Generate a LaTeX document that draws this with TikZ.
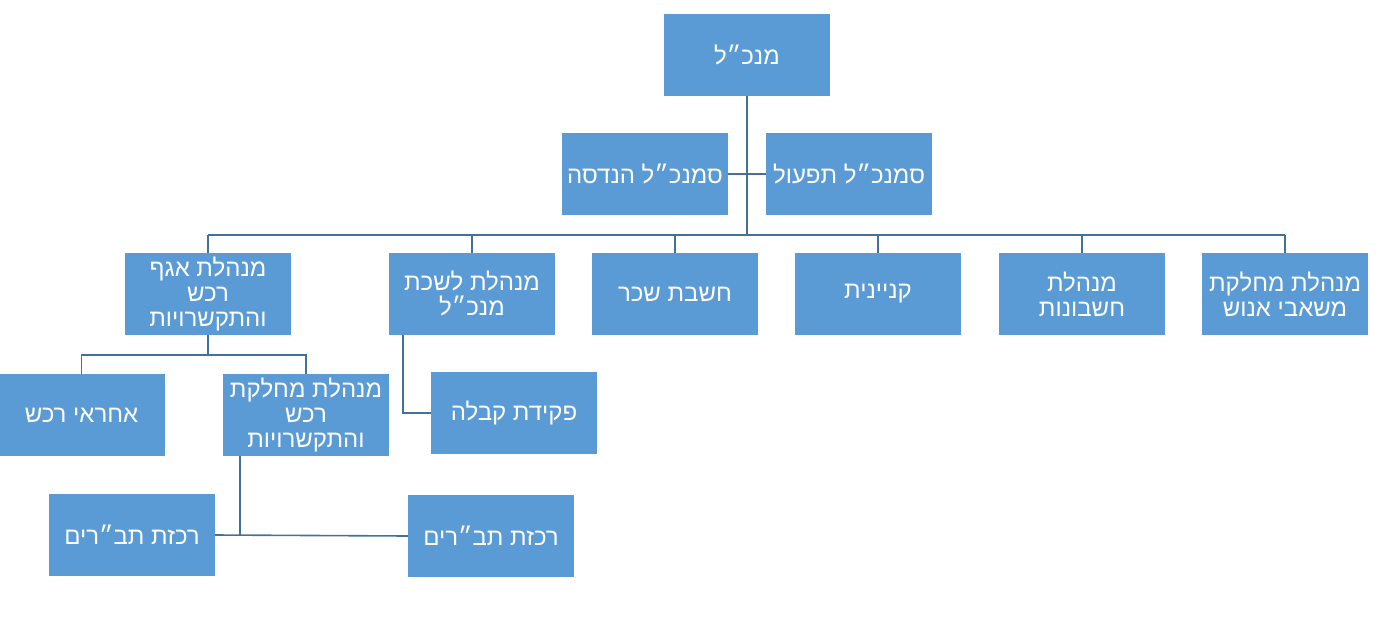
\documentclass[tikz,border=0pt]{standalone}
\usepackage{fontspec}
\setmainfont{Liberation Sans}
\newfontfamily\hebfont[Script=Hebrew]{Liberation Sans}
\TeXXeTstate=1
\definecolor{boxblue}{HTML}{5B9BD5}
\definecolor{lineblue}{HTML}{41719C}
\newcommand{\heb}[1]{\beginR#1\endR}

\tikzset{unite/.style = {fill = boxblue, text = white,
                         minimum width = 166pt, minimum height = 82pt,
                         inner sep = 0pt, align = center,
                         font = \hebfont\fontsize{24}{25}\selectfont},
         lien/.style  = {draw = lineblue, line width = 1.6pt}
        }

\begin{document}
\begin{tikzpicture}[x=1pt, y=-1pt]
  \useasboundingbox (0,0) rectangle (1381,624);
  % boxes
  \node[unite] (root)      at (747,55)   {\heb{מנכ״ל}};
  \node[unite] (handasa)   at (645,174)  {\heb{סמנכ״ל הנדסה}};
  \node[unite] (tiful)     at (849,174)  {\heb{סמנכ״ל תפעול}};
  \node[unite] (agaf)      at (208,294)  {\heb{מנהלת אגף}\\\heb{רכש}\\\heb{והתקשרויות}};
  \node[unite] (lishka)    at (472,294)  {\heb{מנהלת לשכת}\\\heb{מנכ״ל}};
  \node[unite] (sachar)    at (675,294)  {\heb{חשבת שכר}};
  \node[unite] (kniyanit)  at (878,294)  {\heb{קניינית}};
  \node[unite] (heshbonot) at (1082,294) {\heb{מנהלת}\\\heb{חשבונות}};
  \node[unite] (enosh)     at (1285,294) {\heb{מנהלת מחלקת}\\\heb{משאבי אנוש}};
  \node[unite] (achrai)    at (81.5,415) {\heb{אחראי רכש}};
  \node[unite] (machlaka)  at (306,415)  {\heb{מנהלת מחלקת}\\\heb{רכש}\\\heb{והתקשרויות}};
  \node[unite] (pkida)     at (514,413)  {\heb{פקידת קבלה}};
  \node[unite] (rak1)      at (132,535)  {\heb{רכזת תב״רים}};
  \node[unite] (rak2)      at (491,536)  {\heb{רכזת תב״רים}};

  % connectors
  \coordinate (bus) at (0,235);
  \coordinate (bus2) at (0,355);
  \draw[lien] (root.south) -- (root |- bus);
  \draw[lien] (handasa.east) -- (tiful.west);
  \draw[lien] (agaf |- bus) -- (enosh |- bus);
  \foreach \n in {agaf, lishka, sachar, kniyanit, heshbonot, enosh}
    \draw[lien] (\n |- bus) -- (\n.north);
  \draw[lien] (agaf.south) -- (agaf |- bus2);
  \draw[lien] (achrai.north) |- (bus2 -| machlaka) -- (machlaka.north);
  \draw[lien] ([xshift=14pt]lishka.south west) |- (pkida.west);
  \draw[lien] (rak1.east) -- (rak2.west);
  \draw[lien] ([xshift=17pt]machlaka.south west) -- ([xshift=17pt]machlaka.south west |- rak1.east);
\end{tikzpicture}
\end{document}
